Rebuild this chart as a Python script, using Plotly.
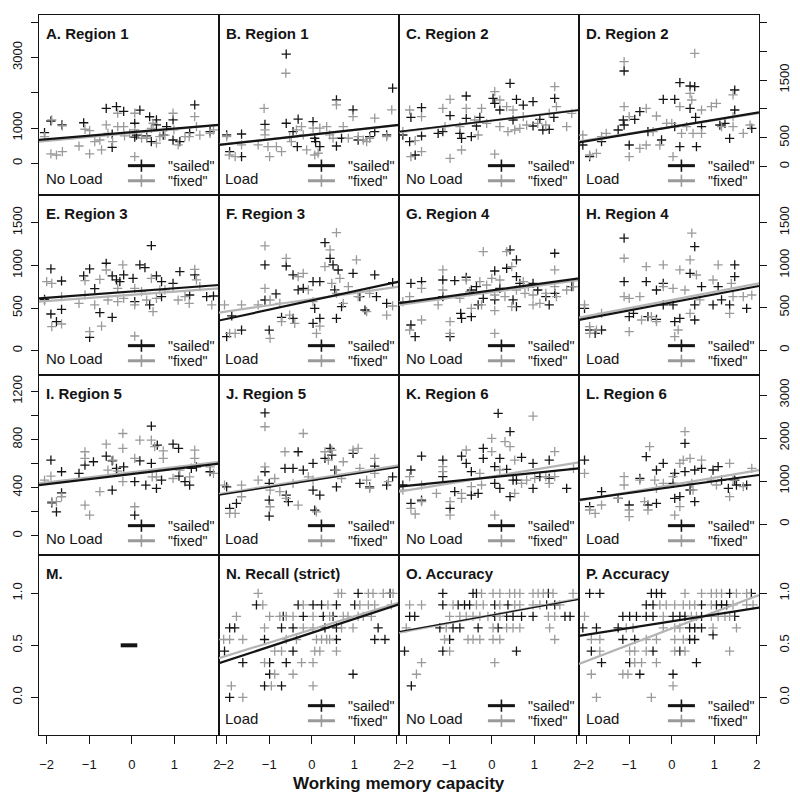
import plotly.graph_objects as go

# ---------------- data ----------------
A_SAILED = [(-2.05,870),(-1.9,1200),(-1.64,1090),(-1.13,1150),(-0.6,1560),(-0.46,830),(-0.46,450),(-0.36,1610),(-0.19,1470),(0.07,1135),(0.19,1510),(0.07,740),(0.42,1320),(0.58,1230),(0.58,1090),(0.46,615),(0.82,1040),(0.97,1230),(0.97,660),(1.13,615),(1.48,1655),(1.36,870),(1.84,900),(0.11,800),(0.74,800),(0.35,775)]
A_FIXED = [(-2.05,755),(-1.88,1230),(-1.9,265),(-1.77,235),(-1.63,1060),(-1.63,330),(-1.24,490),(-1.1,965),(-0.99,925),(-0.99,265),(-0.87,615),(-0.75,660),(-0.71,380),(-0.6,1090),(-0.56,850),(-0.33,1420),(-0.33,1040),(-0.19,1040),(-0.17,775),(0.07,1420),(0.07,945),(0.07,190),(0.23,710),(0.35,710),(0.46,990),(0.5,1135),(0.58,570),(0.66,755),(0.78,800),(0.97,1420),(0.99,945),(1.09,520),(1.25,755),(1.35,755),(1.48,1325),(1.52,1040),(1.6,800),(1.84,850),(1.92,945),(-0.45,615),(-0.05,850)]
B_SAILED = [(-2.0,805),(-1.93,330),(-1.65,830),(-1.65,190),(-1.1,1105),(-0.6,3095),(-0.6,1135),(-0.44,900),(-0.32,1250),(-0.34,470),(0.03,1180),(0.09,615),(0.19,470),(0.07,710),(0.58,1800),(0.58,490),(0.7,710),(0.97,1515),(1.09,660),(1.36,755),(1.48,900),(1.76,805),(1.9,2130)]
B_FIXED = [(-2.0,755),(-1.94,235),(-1.8,190),(-1.65,520),(-1.26,520),(-1.12,1560),(-1.1,805),(-1.1,945),(-0.99,190),(-1.03,470),(-0.83,470),(-0.71,330),(-0.61,2555),(-0.52,755),(-0.48,615),(-0.36,945),(-0.24,1040),(-0.2,805),(-0.12,380),(0.03,995),(0.07,235),(0.15,285),(0.19,995),(0.35,1040),(0.42,805),(0.5,710),(0.58,1655),(0.74,1040),(0.86,710),(0.97,1325),(1.09,755),(1.21,660),(1.29,615),(1.48,1280),(1.36,710),(1.88,1515),(1.76,755)]
C_SAILED = [(-2.09,548),(-1.93,433),(-1.9,854),(-1.65,1021),(-1.65,531),(-1.8,202),(-1.26,577),(-1.15,606),(-0.98,883),(-0.75,577),(-0.71,490),(-0.6,1223),(-0.48,519),(-0.6,837),(-0.36,704),(-0.28,854),(0.03,1183),(0.07,1096),(0.19,981),(0.43,1443),(0.5,808),(0.58,1166),(0.74,1067),(0.97,1125),(0.97,704),(1.13,819),(1.2,635),(1.35,646),(1.48,1183),(1.46,854)]
C_FIXED = [(-2.09,606),(-1.93,981),(-1.9,173),(-1.8,450),(-1.65,866),(-1.65,260),(-1.15,1010),(-0.98,1166),(-0.98,144),(-1.1,692),(-0.75,692),(-0.71,289),(-0.6,1010),(-0.4,808),(-0.32,548),(-0.24,1010),(-0.12,750),(0.07,1298),(0.07,219),(0.19,1154),(0.19,692),(0.35,1039),(0.38,606),(0.5,981),(0.54,635),(0.66,664),(0.74,866),(0.82,721),(1.08,750),(1.27,721),(1.35,923),(1.48,1385),(1.52,1039),(1.76,692),(1.88,923)]
D_SAILED = [(-2.09,375),(-1.93,173),(-1.65,433),(-1.26,635),(-1.12,1656),(-1.14,808),(-1.12,721),(-0.87,819),(-1.0,375),(-0.75,952),(-0.56,606),(-0.24,462),(-0.2,1166),(0.07,1166),(0.07,692),(0.19,1454),(0.19,346),(0.43,1396),(0.43,1010),(0.54,1385),(0.56,854),(0.58,346),(0.7,692),(1.13,721),(1.25,750),(1.36,490),(1.48,1327),(1.48,981),(1.88,664)]
D_FIXED = [(-2.09,548),(-1.93,202),(-1.77,231),(-1.65,519),(-1.54,577),(-1.12,1818),(-1.12,1039),(-1.0,173),(-1.0,866),(-0.75,317),(-0.6,1010),(-0.6,375),(-0.44,606),(-0.36,877),(-0.28,375),(-0.12,750),(0.0,750),(0.03,173),(0.19,1039),(0.23,577),(0.35,692),(0.43,1269),(0.47,1154),(0.54,1962),(0.5,577),(0.7,981),(0.7,577),(0.93,1039),(1.05,1096),(1.17,692),(1.44,1241),(1.44,866),(1.44,692),(1.68,577),(1.84,721)]
E_SAILED = [(-2.05,602),(-1.9,958),(-1.9,430),(-1.77,340),(-1.65,817),(-1.65,485),(-1.13,876),(-0.99,958),(-0.99,156),(-0.87,727),(-0.75,446),(-0.6,1025),(-0.46,391),(-0.46,876),(-0.36,829),(-0.28,809),(-0.19,888),(0.03,848),(0.07,575),(0.19,1005),(0.31,974),(0.46,1232),(0.42,536),(0.58,876),(0.7,809),(0.7,633),(0.97,790),(1.13,927),(1.36,653),(1.48,888),(1.76,633),(1.92,641)]
E_FIXED = [(-2.05,583),(-2.0,809),(-1.88,790),(-1.88,282),(-1.65,633),(-1.65,313),(-1.24,555),(-1.1,653),(-1.1,821),(-0.99,223),(-0.87,536),(-0.75,837),(-0.71,289),(-0.6,946),(-0.56,594),(-0.33,731),(-0.33,575),(-0.21,1005),(-0.19,614),(0.07,731),(0.07,536),(0.07,172),(0.23,692),(0.35,594),(0.46,848),(0.5,457),(0.58,614),(0.66,712),(0.78,712),(0.97,731),(1.09,594),(1.25,633),(1.35,555),(1.48,954),(1.52,829),(1.6,751),(1.88,536)]
F_SAILED = [(-2.0,164),(-1.88,407),(-1.65,242),(-1.1,1005),(-1.1,594),(-1.0,242),(-0.84,665),(-0.71,391),(-0.6,993),(-0.44,888),(-0.44,379),(-0.32,712),(-0.2,731),(0.03,809),(0.03,321),(0.07,497),(0.19,809),(0.19,379),(0.31,1267),(0.43,1083),(0.5,1005),(0.54,712),(0.58,379),(0.62,946),(0.7,516),(0.97,907),(1.13,633),(1.25,477),(1.48,888),(1.52,633),(1.76,555),(1.9,798)]
F_FIXED = [(-2.05,536),(-1.93,203),(-1.8,203),(-1.65,536),(-1.26,536),(-1.1,1228),(-1.1,731),(-0.98,594),(-0.98,145),(-0.75,555),(-0.71,340),(-0.6,1083),(-0.52,418),(-0.4,321),(-0.32,868),(-0.2,907),(-0.08,712),(0.03,575),(0.11,203),(0.19,289),(0.31,985),(0.43,1181),(0.47,790),(0.58,1384),(0.58,672),(0.66,848),(0.74,555),(0.86,751),(1.05,1064),(1.09,633),(1.29,457),(1.36,672),(1.76,418),(1.9,524)]
G_SAILED = [(-1.9,786),(-1.9,295),(-1.8,157),(-1.65,806),(-1.15,825),(-1.15,629),(-0.98,157),(-0.87,817),(-0.73,432),(-0.71,373),(-0.6,857),(-0.48,707),(-0.48,393),(-0.36,747),(-0.32,531),(-0.2,609),(0.07,931),(0.07,590),(0.19,727),(0.35,963),(0.43,1179),(0.5,590),(0.58,1061),(0.58,865),(0.58,511),(0.66,786),(0.97,786),(1.08,707),(1.27,629),(1.35,531),(1.48,1140),(1.48,668),(1.88,747)]
G_FIXED = [(-2.09,570),(-1.93,629),(-1.93,236),(-1.65,727),(-1.65,354),(-1.26,531),(-1.15,943),(-1.15,707),(-0.98,334),(-0.98,197),(-0.75,609),(-0.6,825),(-0.52,688),(-0.48,491),(-0.28,806),(-0.24,531),(-0.2,1159),(-0.12,766),(0.0,845),(0.07,648),(0.07,464),(0.07,197),(0.19,825),(0.31,629),(0.35,1159),(0.47,983),(0.47,511),(0.58,707),(0.74,806),(0.78,668),(0.86,747),(0.97,648),(0.97,531),(1.13,550),(1.27,668),(1.48,943),(1.48,747),(1.52,629),(1.76,707),(1.92,747)]
H_SAILED = [(-2.05,491),(-1.93,236),(-1.8,197),(-1.65,236),(-1.12,1317),(-1.12,806),(-1.0,393),(-0.9,432),(-0.6,806),(-0.56,393),(-0.36,707),(-0.36,362),(-0.2,786),(-0.2,531),(0.03,531),(0.07,334),(0.19,373),(0.43,904),(0.54,1218),(0.54,531),(0.54,354),(0.7,747),(0.97,531),(1.09,747),(1.17,590),(1.48,1002),(1.48,865),(1.36,531),(1.76,491)]
H_FIXED = [(-2.05,531),(-1.93,275),(-1.93,197),(-1.77,236),(-1.65,432),(-1.12,1081),(-1.12,629),(-1.0,216),(-1.0,609),(-0.75,629),(-0.71,354),(-0.6,983),(-0.48,393),(-0.36,334),(-0.2,1002),(-0.2,747),(0.03,727),(0.07,157),(0.15,236),(0.19,943),(0.31,707),(0.43,1061),(0.47,1376),(0.43,432),(0.58,884),(0.66,590),(1.09,1002),(0.97,825),(1.36,432),(1.4,786),(1.44,629),(1.68,629),(1.88,648)]
I_SAILED = [(-1.9,629),(-1.88,274),(-1.77,199),(-1.65,357),(-1.65,532),(-1.24,518),(-1.1,587),(-0.9,615),(-0.6,662),(-0.46,623),(-0.46,379),(-0.36,560),(-0.19,573),(0.07,449),(0.19,623),(0.33,421),(0.46,911),(0.46,601),(0.58,393),(0.6,753),(0.7,463),(0.97,762),(1.1,726),(1.11,496),(1.25,449),(1.36,421),(1.4,560),(1.52,573),(1.84,532),(0.07,172)]
I_FIXED = [(-2.05,463),(-1.9,496),(-1.88,283),(-1.77,283),(-1.65,324),(-1.1,698),(-1.1,643),(-1.1,255),(-0.99,172),(-0.75,366),(-0.6,762),(-0.56,546),(-0.44,629),(-0.33,537),(-0.21,850),(-0.21,726),(-0.21,449),(0.07,643),(0.19,795),(0.46,795),(0.48,490),(0.54,740),(0.58,490),(0.74,643),(0.74,706),(0.97,476),(1.13,546),(1.48,712),(1.48,643),(1.36,490),(1.84,573),(1.92,518),(0.07,241)]
J_SAILED = [(-2.0,407),(-1.93,227),(-1.77,269),(-1.1,1022),(-1.1,532),(-1.0,435),(-1.0,296),(-1.0,163),(-0.63,560),(-0.6,338),(-0.55,283),(-0.44,560),(-0.32,698),(-0.2,546),(0.03,601),(0.03,379),(0.07,213),(0.19,338),(0.31,643),(0.43,726),(0.47,670),(0.54,546),(0.58,407),(0.97,684),(1.13,435),(1.36,407),(1.48,579),(1.76,421),(1.9,490)]
J_FIXED = [(-2.05,421),(-1.93,186),(-1.8,186),(-1.65,421),(-1.65,324),(-1.26,463),(-1.1,906),(-1.1,573),(-0.98,241),(-0.98,379),(-0.87,476),(-0.75,366),(-0.63,698),(-0.6,310),(-0.44,435),(-0.32,255),(-0.2,850),(-0.08,490),(0.03,463),(0.11,199),(0.31,698),(0.39,629),(0.47,712),(0.58,546),(0.7,476),(0.74,615),(0.97,712),(1.09,726),(1.13,560),(1.29,463),(1.36,393),(1.48,643),(1.48,518),(1.8,449)]
K_SAILED = [(-2.09,907),(-1.9,1256),(-1.9,481),(-1.65,1581),(-1.65,558),(-1.15,1488),(-1.15,1101),(-0.98,364),(-0.87,752),(-0.71,1581),(-0.6,1411),(-0.48,674),(-0.48,1217),(-0.32,713),(-0.2,1759),(-0.2,1527),(0.07,1333),(0.07,945),(0.15,2573),(0.19,1527),(0.19,829),(0.35,1271),(0.43,2147),(0.43,636),(0.5,1023),(0.58,1023),(0.7,1550),(0.97,1411),(0.97,829),(1.13,1101),(1.35,1062),(1.35,1488),(1.76,829)]
K_FIXED = [(-2.09,790),(-1.93,1101),(-1.9,364),(-1.8,233),(-1.65,519),(-1.65,907),(-1.3,713),(-1.15,1333),(-1.15,1217),(-0.98,209),(-0.98,519),(-0.71,713),(-0.71,597),(-0.6,1721),(-0.48,868),(-0.28,1178),(-0.24,907),(0.0,1992),(0.0,1682),(0.07,209),(0.19,1256),(0.31,1914),(0.43,1798),(0.54,1488),(0.54,713),(0.7,945),(0.82,1023),(0.97,2511),(1.01,1062),(1.27,1101),(1.48,1682),(1.48,1101),(1.35,945),(1.92,1294)]
L_SAILED = [(-2.05,1488),(-1.93,403),(-1.65,752),(-1.26,597),(-1.0,442),(-0.75,1062),(-0.6,1566),(-0.56,442),(-0.36,1256),(-0.2,1411),(-0.36,481),(0.03,945),(0.07,1178),(0.07,597),(0.19,636),(0.31,1876),(0.31,1217),(0.43,791),(0.54,1256),(0.54,519),(0.7,1294),(0.97,1256),(1.09,1333),(1.17,1023),(1.33,829),(1.48,1023),(1.52,907),(1.76,907)]
L_FIXED = [(-2.05,1178),(-1.93,326),(-1.8,248),(-1.65,442),(-1.26,597),(-1.12,1101),(-1.12,907),(-1.0,326),(-1.0,171),(-0.75,1023),(-0.64,519),(-0.56,326),(-0.52,1798),(-0.4,1023),(-0.36,829),(-0.2,945),(0.03,1101),(0.07,209),(0.19,403),(0.19,1411),(0.27,1488),(0.31,2147),(0.43,1527),(0.47,945),(0.5,791),(0.7,1488),(0.93,1023),(1.05,907),(1.36,1411),(1.36,636),(1.44,1023),(1.68,868),(1.88,1294)]
N_SAILED = [(1.09,1.0),(1.84,1.0),(-1.30,0.889),(-0.32,0.889),(0.03,0.889),(0.23,0.889),(0.58,0.889),(1.01,0.889),(-0.67,0.778),(-0.20,0.778),(0.27,0.778),(0.50,0.778),(-1.93,0.667),(-1.81,0.667),(-0.71,0.667),(-0.44,0.667),(0.31,0.667),(0.58,0.667),(1.56,0.667),(-1.11,0.556),(0.58,0.556),(1.48,0.556),(1.72,0.556),(-2.05,0.444),(-0.44,0.444),(-1.62,0.333),(-0.99,0.333),(-0.60,0.333),(-0.99,0.222),(0.97,0.222),(-1.11,0.111),(-0.71,0.111),(-1.93,0.0)]
N_FIXED = [(-1.26,1.0),(0.62,1.0),(0.70,1.0),(1.33,1.0),(1.44,1.0),(1.68,1.0),(1.91,1.0),(-1.15,0.889),(-0.20,0.889),(0.38,0.889),(1.13,0.889),(1.33,0.889),(1.48,0.889),(1.87,0.889),(-1.77,0.778),(-0.99,0.778),(-0.75,0.778),(-0.60,0.778),(-0.44,0.778),(0.03,0.778),(0.42,0.778),(0.74,0.778),(0.85,0.778),(1.09,0.778),(1.21,0.778),(1.40,0.778),(-1.11,0.667),(-0.20,0.667),(0.03,0.667),(0.70,0.667),(0.97,0.667),(-2.07,0.556),(-1.93,0.556),(-1.62,0.556),(-0.60,0.556),(-0.36,0.556),(0.11,0.556),(0.23,0.556),(0.35,0.556),(0.42,0.556),(-0.87,0.444),(-0.71,0.444),(0.07,0.444),(0.19,0.444),(0.58,0.444),(-1.11,0.333),(-0.24,0.333),(0.03,0.333),(-0.87,0.222),(-0.44,0.222),(-1.89,0.111),(-0.95,0.111),(0.03,0.111),(-1.62,0.0)]
O_SAILED = [(-1.15,1.0),(-0.44,1.0),(-0.36,1.0),(1.33,1.0),(-1.15,0.889),(-0.79,0.889),(-0.64,0.889),(-0.52,0.889),(0.07,0.889),(0.38,0.889),(1.29,0.889),(1.48,0.889),(-1.93,0.778),(-1.81,0.778),(0.07,0.778),(0.35,0.778),(0.50,0.778),(0.70,0.778),(0.97,0.778),(1.72,0.778),(1.84,0.778),(-1.22,0.667),(-0.91,0.667),(-0.75,0.667),(-0.32,0.667),(0.15,0.667),(-0.99,0.556),(-2.05,0.444),(-1.15,0.444),(0.58,0.444),(-1.89,0.111)]
O_FIXED = [(-0.24,1.0),(0.03,1.0),(0.19,1.0),(0.42,1.0),(0.54,1.0),(0.66,1.0),(0.97,1.0),(1.09,1.0),(1.21,1.0),(1.44,1.0),(1.91,1.0),(-1.93,0.889),(-1.65,0.889),(-0.91,0.889),(-0.36,0.889),(-0.20,0.889),(0.19,0.889),(0.54,0.889),(0.66,0.889),(0.97,0.889),(1.13,0.889),(1.60,0.889),(-0.99,0.778),(-0.75,0.778),(-0.60,0.778),(-0.44,0.778),(-0.28,0.778),(-0.09,0.778),(0.19,0.778),(1.33,0.778),(1.48,0.778),(-2.01,0.667),(-1.07,0.667),(0.03,0.667),(0.35,0.667),(0.50,0.667),(0.66,0.667),(1.36,0.667),(-1.11,0.556),(-0.56,0.556),(-0.44,0.556),(-0.28,0.556),(0.03,0.556),(0.19,0.556),(1.48,0.556),(-0.99,0.444),(-1.65,0.333),(0.07,0.333),(-1.77,0.222)]
P_SAILED = [(-1.93,1.0),(-1.69,1.0),(-0.48,1.0),(-0.36,1.0),(-0.24,1.0),(1.36,1.0),(1.87,1.0),(-0.60,0.889),(-0.44,0.889),(0.70,0.889),(1.05,0.889),(1.17,0.889),(1.29,0.889),(-1.15,0.778),(-0.99,0.778),(-0.83,0.778),(-0.60,0.778),(-0.44,0.778),(0.03,0.778),(0.19,0.778),(0.31,0.778),(0.70,0.778),(1.48,0.778),(-2.09,0.667),(-1.77,0.667),(-1.26,0.667),(0.42,0.667),(0.54,0.667),(0.70,0.667),(0.97,0.6),(-1.15,0.556),(-0.87,0.556),(0.42,0.556),(0.54,0.556),(-1.89,0.444),(-0.44,0.444),(0.19,0.444),(-1.65,0.333),(-0.99,0.333),(0.58,0.333),(-0.75,0.222),(0.03,0.222)]
P_FIXED = [(0.31,1.0),(0.70,1.0),(0.93,1.0),(1.05,1.0),(1.17,1.0),(1.52,1.0),(1.76,1.0),(-0.28,0.889),(-0.13,0.889),(0.07,0.889),(0.27,0.889),(0.42,0.889),(0.54,0.889),(0.93,0.889),(1.44,0.889),(1.76,0.889),(1.91,0.889),(-2.05,0.778),(-0.20,0.778),(0.46,0.778),(0.58,0.778),(0.93,0.778),(1.09,0.778),(1.25,0.778),(1.36,0.778),(-1.07,0.667),(-0.91,0.667),(-0.20,0.667),(0.07,0.667),(0.19,0.667),(0.97,0.667),(1.52,0.667),(-1.89,0.556),(-1.69,0.556),(-0.60,0.556),(-0.36,0.556),(0.07,0.556),(0.27,0.556),(-1.69,0.444),(-0.99,0.444),(-0.87,0.444),(-0.60,0.444),(0.07,0.444),(0.31,0.444),(1.36,0.444),(-0.87,0.333),(-0.71,0.333),(-0.36,0.333),(-1.89,0.222),(-1.15,0.222),(-1.03,0.222),(0.03,0.111),(-1.77,0.0),(-0.48,0.0)]
M_BAR_X = [-0.26, 0.13]
M_BAR_Y = [0.5, 0.5]

# regression lines: fitted value at WM = -2 and WM = +2 (panels A-L, N, O, P)
FIT_PANELS = ["A","B","C","D","E","F","G","H","I","J","K","L","N","O","P"]
SAILED_AT_M2 = [681, 545, 623, 444, 621, 373, 565, 372, 429, 349, 887, 584, 0.352, 0.645, 0.602]
SAILED_AT_P2 = [1083, 1081, 975, 934, 768, 805, 840, 750, 597, 569, 1289, 1133, 0.887, 0.937, 0.859]
FIXED_AT_M2 = [636, 550, 615, 460, 582, 460, 545, 399, 443, 357, 783, 575, 0.400, 0.635, 0.350]
FIXED_AT_P2 = [1080, 1075, 980, 920, 729, 748, 820, 780, 612, 582, 1426, 1245, 0.905, 0.945, 0.976]

LETTERS = list("ABCDEFGHIJKLMNOP")
TITLES = ["A. Region 1", "B. Region 1", "C. Region 2", "D. Region 2",
          "E. Region 3", "F. Region 3", "G. Region 4", "H. Region 4",
          "I. Region 5", "J. Region 5", "K. Region 6", "L. Region 6",
          "M.", "N. Recall (strict)", "O. Accuracy", "P. Accuracy"]
LOADS = ["No Load", "Load", "No Load", "Load",
         "No Load", "Load", "No Load", "Load",
         "No Load", "Load", "No Load", "Load",
         "", "Load", "No Load", "Load"]
X_TICKS = [-2, -1, 0, 1, 2]

SAILED = {"A": A_SAILED, "B": B_SAILED, "C": C_SAILED, "D": D_SAILED, "E": E_SAILED,
          "F": F_SAILED, "G": G_SAILED, "H": H_SAILED, "I": I_SAILED, "J": J_SAILED,
          "K": K_SAILED, "L": L_SAILED, "N": N_SAILED, "O": O_SAILED, "P": P_SAILED}
FIXED = {"A": A_FIXED, "B": B_FIXED, "C": C_FIXED, "D": D_FIXED, "E": E_FIXED,
         "F": F_FIXED, "G": G_FIXED, "H": H_FIXED, "I": I_FIXED, "J": J_FIXED,
         "K": K_FIXED, "L": L_FIXED, "N": N_FIXED, "O": O_FIXED, "P": P_FIXED}

# ---------------- styling / layout ----------------
OFF = 8                               # page body margin around the figure
W, H = 800 - 2 * OFF, 804 - 2 * OFF   # figure fits the window, so no scrollbars
FONT = "Liberation Sans, Arial, Helvetica, sans-serif"
BLACK = "#141414"
GRAY_PT = "#9a9a9a"
GRAY_LINE = "#b4b4b4"
XR = [-2.18, 2.05]
YR = {"A": [-900, 4207], "B": [-900, 4207], "C": [-490, 2625], "D": [-490, 2625],
      "E": [-285, 1825], "F": [-285, 1825], "G": [-294, 1826], "H": [-294, 1826],
      "I": [-160, 1336], "J": [-160, 1336], "K": [-720, 3465], "L": [-720, 3465]}
for k in "MNOP":
    YR[k] = [-0.362, 1.368]
YTICKS = {
    "A": ([0, 1000, 2000, 3000, 4000], ["0", "1000", "", "3000", ""]),
    "D": ([0, 500, 1000, 1500, 2000, 2500], ["0", "500", "", "1500", "", "2500"]),
    "E": ([0, 500, 1000, 1500], ["0", "500", "1000", "1500"]),
    "H": ([0, 500, 1000, 1500], ["0", "500", "1000", "1500"]),
    "I": ([0, 200, 400, 600, 800, 1000, 1200], ["0", "", "400", "", "800", "", "1200"]),
    "L": ([0, 1000, 2000, 3000], ["0", "1000", "2000", "3000"]),
    "M": ([0, 0.5, 1.0], ["0.0", "0.5", "1.0"]),
    "P": ([0, 0.5, 1.0], ["0.0", "0.5", "1.0"]),
}
SAILED_LW = {"O": 1.2, "C": 1.6, "J": 1.6}

fig = go.Figure()
layout = dict(width=W, height=H, margin=dict(l=0, r=0, t=0, b=0, autoexpand=False),
              paper_bgcolor="white", plot_bgcolor="white", showlegend=False,
              font=dict(family=FONT, color=BLACK))
shapes, annos = [], []

for i, L in enumerate(LETTERS):
    r, c = divmod(i, 4)
    n = "" if i == 0 else str(i + 1)
    x0 = 39 + 180 * c - OFF
    y0 = 15 + 180 * r - OFF
    xa = dict(domain=[x0 / W, (x0 + 180) / W], range=XR, automargin=False,
              anchor="y" + n, showgrid=False, zeroline=False, showline=True,
              mirror=True, linecolor=BLACK, linewidth=1.3)
    if r == 3:
        xa.update(ticks="outside", tickvals=X_TICKS, ticklen=8, tickwidth=1.2,
                  tickcolor=BLACK, tickfont=dict(size=13, family=FONT, color=BLACK),
                  ticklabelstandoff=9)
    else:
        xa.update(showticklabels=False, ticks="")
    ya = dict(domain=[1 - (y0 + 180) / H, 1 - y0 / H], range=YR[L], automargin=False,
              anchor="x" + n, showgrid=False, zeroline=False, showline=True,
              mirror=True, linecolor=BLACK, linewidth=1.3)
    if L in YTICKS:
        tv, tt = YTICKS[L]
        ya.update(ticks="outside", tickvals=tv, ticktext=tt, ticklen=7, tickwidth=1.2,
                  tickcolor=BLACK, tickangle=-90,
                  tickfont=dict(size=13, family=FONT, color=BLACK),
                  side="left" if c == 0 else "right",
                  ticklabelstandoff=4 if c == 0 else 6)
    else:
        ya.update(showticklabels=False, ticks="")
    layout["xaxis" + n] = xa
    layout["yaxis" + n] = ya

    xax, yax = "x" + n, "y" + n
    if L in SAILED:
        s, f = SAILED[L], FIXED[L]
        fig.add_trace(go.Scatter(x=[p[0] for p in s], y=[p[1] for p in s], mode="markers",
                                 xaxis=xax, yaxis=yax, cliponaxis=True,
                                 marker=dict(symbol="cross-thin", size=6.6, color=BLACK,
                                             line=dict(width=1.3, color=BLACK))))
        fig.add_trace(go.Scatter(x=[p[0] for p in f], y=[p[1] for p in f], mode="markers",
                                 xaxis=xax, yaxis=yax, cliponaxis=True,
                                 marker=dict(symbol="cross-thin", size=6.6, color=GRAY_PT,
                                             line=dict(width=1.3, color=GRAY_PT))))
        k = FIT_PANELS.index(L)
        for lo, hi, col, lw in [(FIXED_AT_M2[k], FIXED_AT_P2[k], GRAY_LINE, 2.2),
                                (SAILED_AT_M2[k], SAILED_AT_P2[k], BLACK, SAILED_LW.get(L, 2.2))]:
            slope = (hi - lo) / 4.0
            xs = [XR[0], XR[1]]
            ys = [lo + slope * (x + 2) for x in xs]
            fig.add_trace(go.Scatter(x=xs, y=ys, mode="lines", xaxis=xax, yaxis=yax,
                                     line=dict(color=col, width=lw)))
        # legend key
        dx, dy = xax + " domain", yax + " domain"
        for yy, col in [(0.163, BLACK), (0.079, GRAY_PT)]:
            shapes.append(dict(type="line", xref=dx, yref=dy, x0=0.494, x1=0.644, y0=yy, y1=yy,
                               line=dict(color=col, width=3)))
            shapes.append(dict(type="line", xref=dx, yref=dy, x0=0.569, x1=0.569,
                               y0=yy - 0.034, y1=yy + 0.034, line=dict(color=col, width=1.6)))
        annos.append(dict(xref=dx, yref=dy, x=0.705, y=0.163, text='"sailed"', showarrow=False,
                          xanchor="left", yanchor="middle", font=dict(size=14, family=FONT, color=BLACK)))
        annos.append(dict(xref=dx, yref=dy, x=0.705, y=0.079, text='"fixed"', showarrow=False,
                          xanchor="left", yanchor="middle", font=dict(size=14, family=FONT, color=BLACK)))
    if L == "M":
        fig.add_trace(go.Scatter(x=M_BAR_X, y=M_BAR_Y, mode="lines", xaxis=xax, yaxis=yax,
                                 line=dict(color=BLACK, width=4)))
    dx, dy = xax + " domain", yax + " domain"
    annos.append(dict(xref=dx, yref=dy, x=0.025, y=0.9, text="<b>%s</b>" % TITLES[i],
                      showarrow=False, xanchor="left", yanchor="middle",
                      font=dict(size=15, family=FONT, color=BLACK)))
    if LOADS[i]:
        annos.append(dict(xref=dx, yref=dy, x=0.025, y=0.092, text=LOADS[i], showarrow=False,
                          xanchor="left", yanchor="middle",
                          font=dict(size=15, family=FONT, color=BLACK)))

annos.append(dict(xref="paper", yref="paper", x=(399 - OFF) / W, y=1 - (783 - OFF) / H,
                  text="<b>Working memory capacity</b>", showarrow=False,
                  xanchor="center", yanchor="middle",
                  font=dict(size=17, family=FONT, color=BLACK)))
layout["shapes"] = shapes
layout["annotations"] = annos
fig.update_layout(**layout)
fig.write_html("out.html")
